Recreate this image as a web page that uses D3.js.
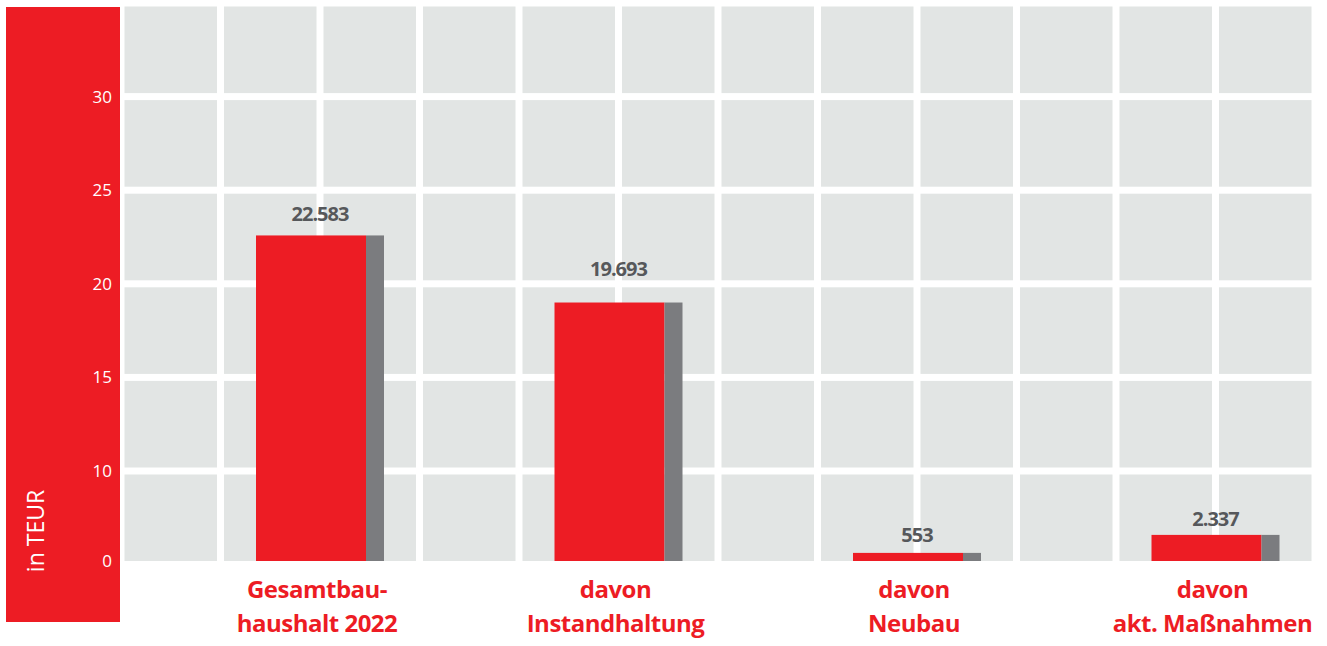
<!DOCTYPE html>
<html>
<head>
<meta charset="utf-8">
<script src="https://cdn.jsdelivr.net/npm/d3@7"></script>
<style>
body{margin:0;background:#fff;}
text{font-family:"Open Sans",sans-serif;}
</style>
</head>
<body>
<div id="vis"></div>
<script>
// categories (two lines each)
var categories = [["Gesamtbau-","haushalt 2022"],["davon","Instandhaltung"],["davon","Neubau"],["davon","akt. Maßnahmen"]];
// printed values (TEUR) and their labels
var values = [22.583, 19.693, 0.553, 2.337];
var valueLabels = ["22.583","19.693","553","2.337"];
// bar tops as drawn in the picture
var barLevels = [22.583, 19.0, 0.9, 2.9];
// y ticks as labelled
var tickValues = [0,10,15,20,25,30];
// grid row edges
var rowEdges = [35,30,25,20,15,10,0];

var red = "#ed1c24", shade = "#7b7c7f", cell = "#e2e5e4";

var svg = d3.select("#vis").append("svg").attr("width",1327).attr("height",646);

// the axis is not linear in the original: 10 sits one row above 0
var y = d3.scaleLinear().domain([0,10,35]).range([561,471,3]);
// 12 grid columns
var xg = d3.scaleLinear().domain([0,12]).range([121,1315]);
var x = d3.scalePoint().domain(d3.range(categories.length)).range([xg(2),xg(11)]);

// red panel on the left
svg.append("rect").attr("x",6).attr("y",7).attr("width",114).attr("height",615).attr("fill",red);

// grid cells
var gap = 3.5;
for(var r=0;r<rowEdges.length-1;r++){
    let rowTop = y(rowEdges[r]) + gap;
    let rowBot = (r == rowEdges.length-2) ? y(0) : y(rowEdges[r+1]) - gap;
    for(var c=0;c<12;c++){
        svg.append("rect")
            .attr("x",xg(c)+gap).attr("y",rowTop)
            .attr("width",xg(c+1)-xg(c)-2*gap).attr("height",rowBot-rowTop)
            .attr("fill",cell);}}

// y axis labels
var yAxis = svg.append("g").attr("transform","translate(112,0)")
    .call(d3.axisLeft(y).tickValues(tickValues).tickSize(0).tickPadding(0).tickFormat(d3.format("d")));
yAxis.select(".domain").remove();
yAxis.selectAll("text").attr("fill","#fff").style("font-size","17px").style("font-family","'Open Sans',sans-serif");

svg.append("text").text("in TEUR")
    .attr("transform","translate(44,531) rotate(-90)")
    .attr("text-anchor","middle").attr("fill","#fff").style("font-size","23px");

// bars: red face plus grey side
var redW = 110, sideW = 18, total = redW + sideW;
var bars = svg.selectAll("g.bar").data(barLevels).enter().append("g").attr("class","bar");
bars.append("rect")
    .attr("x",(d,i) => x(i) - total/2)
    .attr("y",d => y(d))
    .attr("width",redW)
    .attr("height",d => y(0) - y(d))
    .attr("fill",red);
bars.append("rect")
    .attr("x",(d,i) => x(i) - total/2 + redW)
    .attr("y",d => y(d))
    .attr("width",sideW)
    .attr("height",d => y(0) - y(d))
    .attr("fill",shade);

// value labels
svg.selectAll("text.val").data(values).enter().append("text").attr("class","val")
    .text((d,i) => valueLabels[i])
    .attr("x",(d,i) => x(i))
    .attr("y",d => y(d) - 14)
    .attr("text-anchor","middle")
    .attr("fill","#56585b")
    .style("font-size","20px").style("font-weight","700").style("letter-spacing","-1px");

// category labels
var cats = svg.selectAll("text.cat").data(categories).enter().append("text").attr("class","cat")
    .attr("text-anchor","middle").attr("fill",red)
    .style("font-size","24px").style("font-weight","700").style("letter-spacing","-0.5px");
cats.each(function(d,i){
    var t = d3.select(this);
    d.forEach(function(line,j){
        t.append("tspan").text(line).attr("x",x(i)-3).attr("y",598 + j*34);});});
</script>
</body>
</html>
